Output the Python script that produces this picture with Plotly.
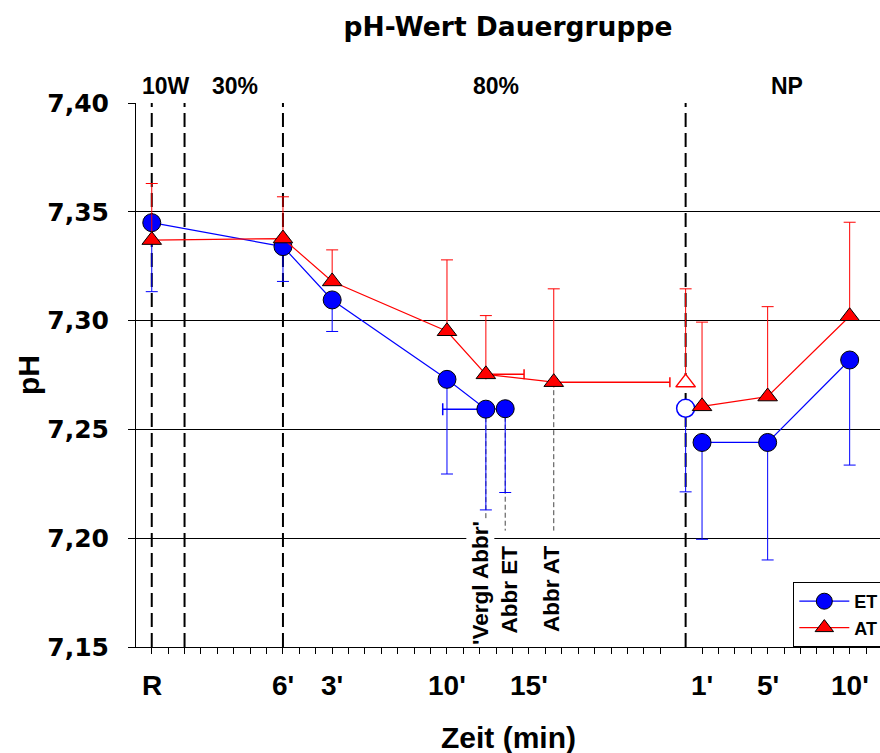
import plotly.graph_objects as go

# ---- time axis: one unit = one minute tick ---------------------------------
NP_START = 32.55                      # start of the Nachphase (NP)
phase_lines = [0, 2, 8, NP_START]     # R, end of 10 W, end of 30 %, start of NP
phase_names = ["10W", "30%", "80%", "NP"]
phase_label_x = [0.85, 5.1, 21.0, 38.7]

minor_ticks = list(range(0, 32)) + [NP_START + k for k in range(1, 12)]
tick_label_x = [0, 8, 11, 18, 23, NP_START + 1, NP_START + 5, NP_START + 10]
tick_label_text = ["R", "6'", "3'", "10'", "15'", "1'", "5'", "10'"]

y_ticks = [7.15, 7.20, 7.25, 7.30, 7.35, 7.40]
y_tick_text = ["7,15", "7,20", "7,25", "7,30", "7,35", "7,40"]

# ---- load phase (mean, SD) -------------------------------------------------
et_x = [0, 8, 11, 18, 20.37, 21.55]
et_y = [7.345, 7.334, 7.3095, 7.273, 7.2593, 7.2595]
et_sd = [0.0317, 0.016, 0.0145, 0.0435, 0.0463, 0.0385]
et_x_sd = [0, 0, 0, 0, 2.63, 0]          # SD of the break-off time (left)

at_x = [0, 8, 11, 18, 20.37, 24.51]
at_y = [7.337, 7.3377, 7.318, 7.2951, 7.2753, 7.2717]
at_sd = [0.026, 0.0192, 0.0145, 0.0328, 0.027, 0.0429]
at_x_sd = [0, 0, 0, 0, 2.33, 7.08]       # SD of the break-off time (right)

# ---- recovery phase --------------------------------------------------------
np_x = [NP_START + 1, NP_START + 5, NP_START + 10]
et_np_y = [7.244, 7.244, 7.2819]
et_np_sd = [0.0445, 0.054, 0.0483]
at_np_y = [7.2606, 7.2651, 7.302]
at_np_sd = [0.0387, 0.0413, 0.0432]

# break-off values repeated at the start of NP (open symbols)
et_abbr_y, et_abbr_sd = 7.2597, 0.0384
at_abbr_y, at_abbr_sd = 7.2715, 0.0431

# ---- break-off markers -----------------------------------------------------
event_x = [20.37, 21.55, 24.51]
event_from = [et_y[4], et_y[5], at_y[5]]
event_labels = ["'Vergl Abbr'", "Abbr ET", "Abbr AT"]
event_label_y = [7.1794, 7.1765, 7.1765]
event_label_shift = [-6, 4, -2]
EVENT_LINE_END = 7.2035

BLUE = "#0000ff"
RED = "#ff0000"
HELV = "Liberation Sans"
WIDE = "DejaVu Sans"


def err(plus, minus, color):
    return dict(type="data", symmetric=False, array=plus, arrayminus=minus,
                color=color, thickness=1, width=6)


fig = go.Figure()

# horizontal SD of the break-off times (drawn first, under the symbols)
ix = [i for i, v in enumerate(et_x_sd) if v > 0]
fig.add_trace(go.Scatter(
    x=[et_x[i] for i in ix], y=[et_y[i] for i in ix], mode="markers",
    marker=dict(size=2, opacity=0), showlegend=False, hoverinfo="skip",
    error_x=dict(type="data", symmetric=False, array=[0] * len(ix),
                 arrayminus=[et_x_sd[i] for i in ix], color=BLUE,
                 thickness=1.5, width=6)))
ix = [i for i, v in enumerate(at_x_sd) if v > 0]
fig.add_trace(go.Scatter(
    x=[at_x[i] for i in ix], y=[at_y[i] for i in ix], mode="markers",
    marker=dict(size=2, opacity=0), showlegend=False, hoverinfo="skip",
    error_x=dict(type="data", symmetric=False, array=[at_x_sd[i] for i in ix],
                 arrayminus=[0] * len(ix), color=RED,
                 thickness=1.5, width=5)))

et_marker = dict(symbol="circle", size=18, color=BLUE,
                 line=dict(color="black", width=1))
at_marker = dict(symbol="triangle-up", size=17, color=RED,
                 line=dict(color="black", width=1))

# ET
fig.add_trace(go.Scatter(
    x=et_x, y=et_y, mode="lines+markers", name="ET", legendgroup="ET",
    line=dict(color=BLUE, width=1.2), marker=et_marker,
    error_y=err([0] * len(et_sd), et_sd, BLUE)))
fig.add_trace(go.Scatter(
    x=np_x, y=et_np_y, mode="lines+markers", name="ET", legendgroup="ET",
    showlegend=False, line=dict(color=BLUE, width=1.2), marker=et_marker,
    error_y=err([0] * len(et_np_sd), et_np_sd, BLUE)))
fig.add_trace(go.Scatter(
    x=[NP_START], y=[et_abbr_y], mode="markers", legendgroup="ET",
    showlegend=False,
    marker=dict(symbol="circle", size=18, color="white",
                line=dict(color=BLUE, width=1.5)),
    error_y=err([0], [et_abbr_sd], BLUE)))

# AT
fig.add_trace(go.Scatter(
    x=at_x, y=at_y, mode="lines+markers", name="AT", legendgroup="AT",
    line=dict(color=RED, width=1.2), marker=at_marker,
    error_y=err(at_sd, [0] * len(at_sd), RED)))
fig.add_trace(go.Scatter(
    x=np_x, y=at_np_y, mode="lines+markers", name="AT", legendgroup="AT",
    showlegend=False, line=dict(color=RED, width=1.2), marker=at_marker,
    error_y=err(at_np_sd, [0] * len(at_np_sd), RED)))
fig.add_trace(go.Scatter(
    x=[NP_START], y=[at_abbr_y], mode="markers", legendgroup="AT",
    showlegend=False,
    marker=dict(symbol="triangle-up", size=17, color="white",
                line=dict(color=RED, width=1.5)),
    error_y=err([at_abbr_sd], [0], RED)))

shapes = []
# phase boundaries
for px in phase_lines:
    shapes.append(dict(type="line", xref="x", yref="paper", x0=px, x1=px,
                       y0=0, y1=1, layer="between",
                       line=dict(color="black", width=2, dash="14px,6px")))
# break-off markers
for ex, ey in zip(event_x, event_from):
    shapes.append(dict(type="line", xref="x", yref="y", x0=ex, x1=ex,
                       y0=ey, y1=EVENT_LINE_END, layer="between",
                       line=dict(color="#444444", width=1, dash="5px,3px")))

annotations = []
for lx, name in zip(phase_label_x, phase_names):
    annotations.append(dict(x=lx, y=1, xref="x", yref="paper", text=name,
                            showarrow=False, yanchor="bottom", yshift=2,
                            font=dict(family=HELV, size=23, color="black",
                                      weight="bold")))
for lx, name in zip(tick_label_x, tick_label_text):
    annotations.append(dict(x=lx, y=0, xref="x", yref="paper", text=name,
                            showarrow=False, yanchor="middle", yshift=-38,
                            font=dict(family=HELV, size=28, color="black",
                                      weight="bold")))
for ex, ly, sh, name in zip(event_x, event_label_y, event_label_shift,
                            event_labels):
    annotations.append(dict(x=ex, y=ly, xref="x", yref="y",
                            text="<b>" + name + "</b>",
                            showarrow=False, textangle=-90, xshift=sh,
                            bgcolor="white", borderpad=1,
                            font=dict(family=HELV, size=22.5, color="black")))
annotations.append(dict(x=0.5, y=0, xref="paper", yref="paper",
                        text="Zeit (min)", showarrow=False, yanchor="middle",
                        yshift=-90,
                        font=dict(family=HELV, size=30, color="black",
                                  weight="bold")))
annotations.append(dict(x=0, y=0.5, xref="paper", yref="paper", text="pH",
                        showarrow=False, textangle=-90, xanchor="center",
                        xshift=-108,
                        font=dict(family=HELV, size=30, color="black",
                                  weight="bold")))

fig.update_layout(
    width=880, height=753,
    margin=dict(l=136, r=0, t=103, b=106, autoexpand=False),
    paper_bgcolor="white", plot_bgcolor="white",
    title=dict(text="pH-Wert Dauergruppe", x=0.5, xref="paper",
               y=1 - 27 / 753, yref="container", yanchor="middle",
               font=dict(family=WIDE, size=26.5, color="black",
                         weight="bold")),
    xaxis=dict(range=[-0.96, 44.4], showgrid=False, zeroline=False,
               showline=True, linecolor="black", linewidth=1,
               tickmode="array", tickvals=minor_ticks, ticks="outside",
               ticklen=6, tickcolor="black", tickwidth=1,
               showticklabels=False),
    yaxis=dict(range=[7.15, 7.40], showgrid=True, gridcolor="black",
               gridwidth=1, zeroline=False, showline=True, linecolor="black",
               linewidth=1, tickmode="array", tickvals=y_ticks,
               ticktext=y_tick_text, ticks="outside", ticklen=7,
               tickcolor="black", ticklabelstandoff=14,
               tickfont=dict(family=WIDE, size=25, color="black",
                             weight="bold")),
    legend=dict(x=0.8835, xanchor="left", y=0, yanchor="bottom",
                bordercolor="black", borderwidth=1, bgcolor="white",
                tracegroupgap=0, itemwidth=50,
                font=dict(family=HELV, size=18, color="black",
                          weight="bold")),
    shapes=shapes,
    annotations=annotations,
)

fig.write_html("out.html")
